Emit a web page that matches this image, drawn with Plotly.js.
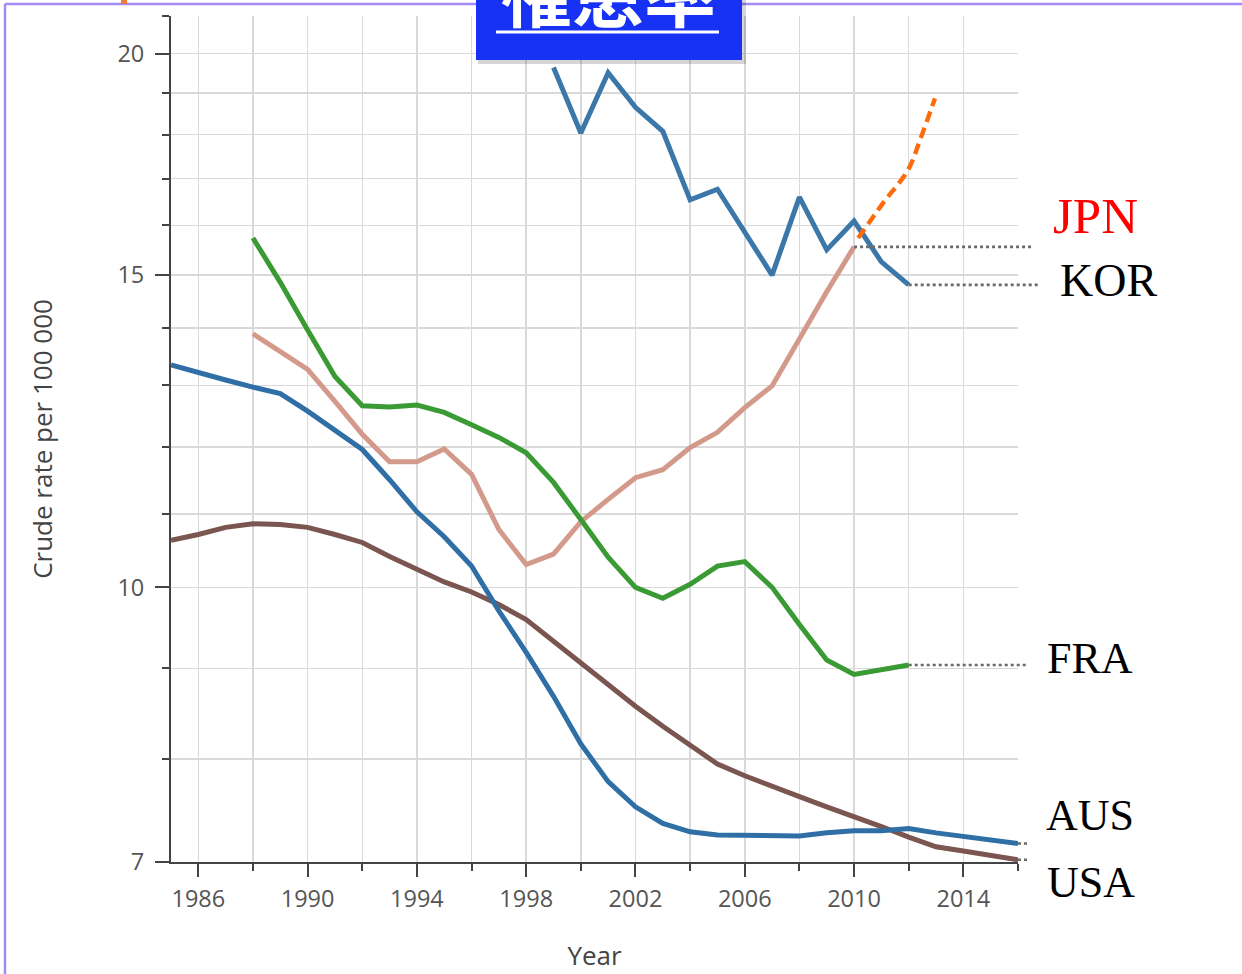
<!DOCTYPE html>
<html>
<head>
<meta charset="utf-8">
<script src="https://cdn.plot.ly/plotly-3.0.1.min.js"></script>
<style>html,body{margin:0;padding:0;background:#fff;}#chart{width:1242px;height:974px;}</style>
</head>
<body>
<div id="chart"></div>
<script>
// ---- data ----
var yearsKOR = [1999,2000,2001,2002,2003,2004,2005,2006,2007,2008,2009,2010,2011,2012];
var valKOR   = [19.64,18.04,19.51,18.65,18.08,16.54,16.77,15.86,15.0,16.6,15.5,16.09,15.26,14.81];

var yearsJPN = [1988,1989,1990,1991,1992,1993,1994,1995,1996,1997,1998,1999,2000,2001,2002,2003,2004,2005,2006,2007,2008,2009,2010];
var valJPN   = [13.9,13.58,13.27,12.73,12.2,11.77,11.77,11.97,11.58,10.78,10.30,10.44,10.89,11.21,11.53,11.65,11.99,12.23,12.63,12.99,13.82,14.68,15.56];

var yearsFRA = [1988,1989,1990,1991,1992,1993,1994,1995,1996,1997,1998,1999,2000,2001,2002,2003,2004,2005,2006,2007,2008,2009,2010,2011,2012];
var valFRA   = [15.74,14.86,13.97,13.15,12.66,12.64,12.67,12.55,12.35,12.15,11.91,11.46,10.92,10.40,10.0,9.86,10.04,10.28,10.34,10.0,9.53,9.10,8.93,8.98,9.04];

var yearsAUS = [1985,1986,1987,1988,1989,1990,1991,1992,1993,1994,1995,1996,1997,1998,1999,2000,2001,2002,2003,2004,2005,2006,2007,2008,2009,2010,2011,2012,2013,2014,2015,2016];
var valAUS   = [13.35,13.23,13.09,12.97,12.86,12.57,12.27,11.96,11.50,11.03,10.68,10.28,9.70,9.19,8.68,8.16,7.77,7.52,7.36,7.28,7.25,7.25,7.24,7.24,7.27,7.29,7.29,7.31,7.27,7.24,7.20,7.17];

var yearsUSA = [1985,1986,1987,1988,1989,1990,1991,1992,1993,1994,1995,1996,1997,1998,1999,2000,2001,2002,2003,2004,2005,2006,2007,2008,2009,2010,2011,2012,2013,2014,2015,2016];
var valUSA   = [10.63,10.71,10.81,10.86,10.85,10.81,10.71,10.60,10.41,10.24,10.07,9.94,9.78,9.59,9.32,9.07,8.82,8.57,8.35,8.15,7.95,7.83,7.72,7.62,7.52,7.43,7.33,7.23,7.14,7.10,7.06,7.02];

var yearsJPNtrend = [2010.15,2011.06,2011.97,2012.41,2012.96];
var valJPNtrend   = [15.74,16.47,17.19,17.87,18.87];

var labelNames = ['JPN','KOR','FRA','AUS','USA'];
var yTickVals = [7,10,15,20];
var yTickText = ['7','10','15','20'];
var yMinorVals = [8,9,11,12,13,14,16,17,18,19,21];
var titleText = '罹患率';
var xTitle = 'Year';
var yTitle = 'Crude rate per 100 000';

// ---- styles ----
var XMIN = 1985, XMAX = 2016, YMIN = 7, YMAX = 21;
var grid = '#d9d9d9', axc = '#444';
function line(x, y, color, w) {
  return {x: x, y: y, type: 'scatter', mode: 'lines', hoverinfo: 'skip', showlegend: false,
          line: {color: color, width: w || 5}};
}
var traces = [
  line(yearsUSA, valUSA, '#7b5550'),
  line(yearsAUS, valAUS, '#2f6fa6'),
  line(yearsJPN, valJPN, '#d39a8b'),
  line(yearsFRA, valFRA, '#3a9a34'),
  line(yearsKOR, valKOR, '#3b77a8'),
  {x: yearsJPNtrend, y: valJPNtrend, type: 'scatter', mode: 'lines', hoverinfo: 'skip', showlegend: false,
   line: {color: '#ff6a0a', width: 4.4, dash: '11px,6px', shape: 'spline'}}
];

function px2paperX(px) { return (px - 171) / 847; }
function px2paperY(py) { return (862 - py) / 846; }
function yrPaper(yr) { return (yr - XMIN) / (XMAX - XMIN); }
function last(a) { return a[a.length - 1]; }

var dotted = {color: '#6a6a6a', width: 2.6, dash: 'dot'};
var shapes = [
  // slide frame
  {type: 'line', xref: 'paper', yref: 'paper', x0: px2paperX(5), x1: px2paperX(1250), y0: px2paperY(4), y1: px2paperY(4), line: {color: '#a38af5', width: 2.5}},
  {type: 'line', xref: 'paper', yref: 'paper', x0: px2paperX(5), x1: px2paperX(5), y0: px2paperY(4), y1: px2paperY(990), line: {color: '#a38af5', width: 2.5}},
  {type: 'rect', xref: 'paper', yref: 'paper', x0: px2paperX(121), x1: px2paperX(127), y0: px2paperY(-2), y1: px2paperY(4), fillcolor: '#f47a3a', line: {width: 0}},
  // dotted leaders
  {type: 'line', xref: 'paper', yref: 'y', x0: yrPaper(last(yearsJPN)), x1: px2paperX(1032), y0: last(valJPN), y1: last(valJPN), line: dotted},
  {type: 'line', xref: 'paper', yref: 'y', x0: yrPaper(last(yearsKOR)), x1: px2paperX(1040), y0: last(valKOR), y1: last(valKOR), line: dotted},
  {type: 'line', xref: 'paper', yref: 'y', x0: yrPaper(last(yearsFRA)), x1: px2paperX(1027), y0: last(valFRA), y1: last(valFRA), line: dotted},
  {type: 'line', xref: 'paper', yref: 'y', x0: yrPaper(last(yearsAUS)), x1: px2paperX(1027), y0: last(valAUS), y1: last(valAUS), line: dotted},
  {type: 'line', xref: 'paper', yref: 'y', x0: yrPaper(last(yearsUSA)), x1: px2paperX(1027), y0: last(valUSA), y1: last(valUSA), line: dotted},
  // title box shadow + box
  {type: 'rect', xref: 'paper', yref: 'paper', x0: px2paperX(478), x1: px2paperX(746), y0: px2paperY(-5), y1: px2paperY(64), fillcolor: 'rgba(0,0,0,0.16)', line: {width: 0}},
  {type: 'rect', xref: 'paper', yref: 'paper', x0: px2paperX(476), x1: px2paperX(742), y0: px2paperY(-5), y1: px2paperY(60), fillcolor: '#1732f4', line: {width: 0}},
  {type: 'line', xref: 'paper', yref: 'paper', x0: px2paperX(496), x1: px2paperX(719), y0: px2paperY(32), y1: px2paperY(32), line: {color: '#ffffff', width: 3}}
];

var serif = 'Liberation Serif, Times New Roman, serif';
var annotations = [
  {xref: 'paper', yref: 'paper', x: px2paperX(607.5), y: px2paperY(44), xanchor: 'center', yanchor: 'bottom', showarrow: false,
   text: '<b>' + titleText + '</b>', font: {family: 'Noto Sans CJK JP', size: 72, color: '#ffffff'}},
  {xref: 'paper', yref: 'paper', x: px2paperX(1095), y: px2paperY(216), xanchor: 'center', yanchor: 'middle', showarrow: false,
   text: labelNames[0], font: {family: serif, size: 51, color: '#ff0000'}},
  {xref: 'paper', yref: 'paper', x: px2paperX(1108), y: px2paperY(281), xanchor: 'center', yanchor: 'middle', showarrow: false,
   text: labelNames[1], font: {family: serif, size: 46, color: '#000000'}},
  {xref: 'paper', yref: 'paper', x: px2paperX(1090), y: px2paperY(658), xanchor: 'center', yanchor: 'middle', showarrow: false,
   text: labelNames[2], font: {family: serif, size: 44, color: '#000000'}},
  {xref: 'paper', yref: 'paper', x: px2paperX(1090), y: px2paperY(815), xanchor: 'center', yanchor: 'middle', showarrow: false,
   text: labelNames[3], font: {family: serif, size: 44, color: '#000000'}},
  {xref: 'paper', yref: 'paper', x: px2paperX(1091), y: px2paperY(882), xanchor: 'center', yanchor: 'middle', showarrow: false,
   text: labelNames[4], font: {family: serif, size: 44, color: '#000000'}}
];

var tickFont = {family: 'Open Sans', size: 23.5, color: '#555555'};
var layout = {
  width: 1242, height: 974,
  margin: {l: 171, r: 224, t: 16, b: 112, pad: 0},
  paper_bgcolor: '#ffffff', plot_bgcolor: '#ffffff',
  showlegend: false,
  font: {family: 'Open Sans', color: '#444'},
  xaxis: {
    range: [XMIN, XMAX], tickmode: 'linear', tick0: 1986, dtick: 4,
    ticks: 'outside', ticklen: 13, tickwidth: 2, tickcolor: axc,
    showline: true, linecolor: axc, linewidth: 2,
    showgrid: true, gridcolor: grid, gridwidth: 1.5, zeroline: false,
    minor: {tick0: 1986, dtick: 2, ticks: 'outside', ticklen: 7, tickwidth: 2, tickcolor: axc, showgrid: true, gridcolor: grid, gridwidth: 1.5},
    tickfont: tickFont, ticklabelstandoff: 2,
    title: {text: xTitle, font: {family: 'Open Sans', size: 26, color: '#444'}, standoff: 34}
  },
  yaxis: {
    type: 'log', range: [Math.log10(YMIN), Math.log10(YMAX)],
    tickmode: 'array', tickvals: yTickVals, ticktext: yTickText,
    ticks: 'outside', ticklen: 14, tickwidth: 2, tickcolor: axc,
    showline: true, linecolor: axc, linewidth: 2,
    showgrid: true, gridcolor: grid, gridwidth: 1.5, zeroline: false,
    minor: {tickmode: 'array', tickvals: yMinorVals, ticks: 'outside', ticklen: 7, tickwidth: 2, tickcolor: axc, showgrid: true, gridcolor: grid, gridwidth: 1.5},
    tickfont: tickFont, ticklabelstandoff: 6,
    title: {text: yTitle, font: {family: 'Open Sans', size: 26, color: '#444'}, standoff: 57}
  },
  shapes: shapes,
  annotations: annotations
};
Plotly.newPlot('chart', traces, layout, {staticPlot: true, displayModeBar: false});
</script>
</body>
</html>
